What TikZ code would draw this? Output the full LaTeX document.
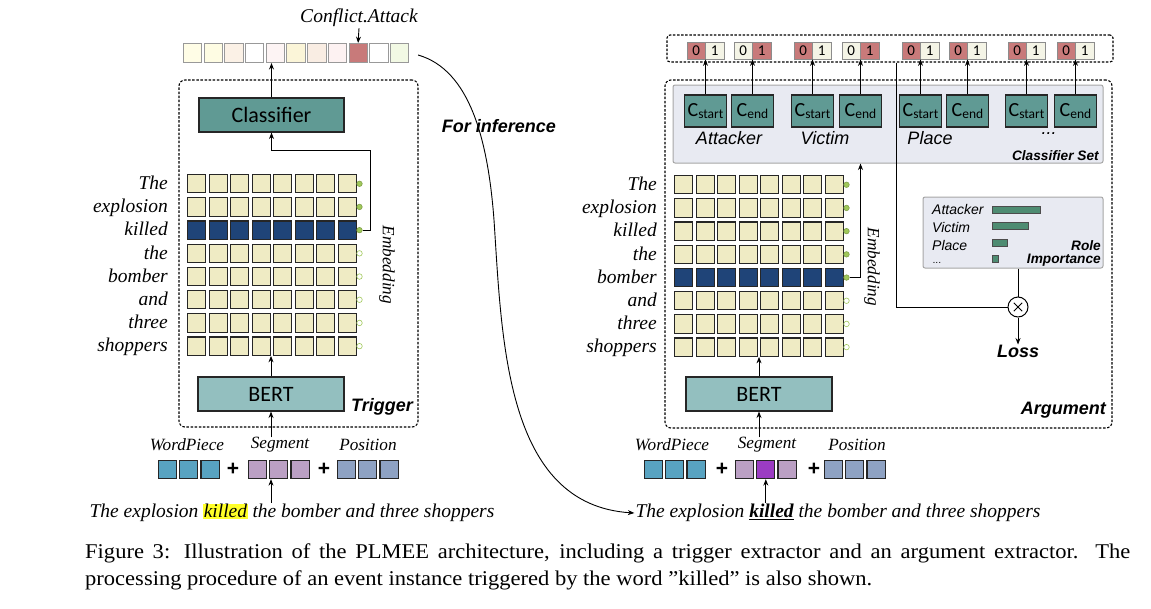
\documentclass[tikz,border=0pt]{standalone}
\usepackage{fontspec}
\usepackage{graphicx}
\setmainfont{Liberation Serif}
\newfontfamily\arialfont{Liberation Sans}
\newfontfamily\calfont{Carlito}
\usetikzlibrary{arrows.meta,calc}
\definecolor{gridc}{RGB}{239,235,196}
\definecolor{navyc}{RGB}{31,68,120}
\definecolor{clsc}{RGB}{96,154,148}
\definecolor{bertc}{RGB}{147,191,191}
\definecolor{dotg}{RGB}{160,200,90}
\definecolor{credc}{RGB}{200,122,122}
\definecolor{clightc}{RGB}{244,244,230}
\definecolor{wpc}{RGB}{88,163,193}
\definecolor{segc}{RGB}{187,160,196}
\definecolor{seghc}{RGB}{155,60,195}
\definecolor{posc}{RGB}{142,162,195}
\definecolor{panelc}{RGB}{232,234,242}
\definecolor{barc}{RGB}{78,140,114}
\definecolor{hlc}{RGB}{255,255,40}
\definecolor{tA}{RGB}{255,253,230}
\definecolor{tB}{RGB}{254,252,227}
\definecolor{tC}{RGB}{251,241,230}
\definecolor{tD}{RGB}{255,255,255}
\definecolor{tE}{RGB}{253,244,244}
\definecolor{tF}{RGB}{251,245,216}
\definecolor{tG}{RGB}{249,237,227}
\definecolor{tH}{RGB}{253,242,242}
\definecolor{tI}{RGB}{200,122,122}
\definecolor{tJ}{RGB}{255,255,255}
\definecolor{tK}{RGB}{242,249,228}
\newsavebox\capB
\begin{document}
\sbox\capB{\fontsize{21}{21}\selectfont processing procedure of an event instance triggered by the word ”killed” is also shown.}%
\pgfmathsetmacro\capsc{787/\the\wd\capB}%
\pgfmathsetmacro\capw{1045/\capsc}%
\begin{tikzpicture}[x=1pt,y=-1pt,
  >={Stealth[length=6.5pt,width=5pt]},
  arr/.style={->,line width=0.9pt},
  ln/.style={line width=0.9pt},
  cellg/.style={draw=black!85,line width=1.1pt,minimum width=18.3pt,minimum height=18.3pt,inner sep=0pt},
  vcell/.style={draw=black!40,line width=0.8pt,minimum width=18.4pt,minimum height=19.2pt,inner sep=0pt},
  pcell/.style={draw=black!45,line width=0.8pt,minimum width=18.5pt,minimum height=17pt,inner sep=0pt,font={\calfont\fontsize{15}{15}\selectfont}},
  embc/.style={draw=black!85,line width=1.1pt,minimum width=18.2pt,minimum height=18.2pt,inner sep=0pt},
  clsbox/.style={draw=black!85,line width=1.1pt,fill=clsc,inner sep=0pt,font={\calfont\fontsize{22}{22}\selectfont}},
  bertbox/.style={draw=black!85,line width=1.1pt,fill=bertc,inner sep=0pt,font={\calfont\fontsize{22}{22}\selectfont}},
  cbox/.style={draw=black!85,line width=1.1pt,fill=clsc,minimum width=42pt,minimum height=32pt,inner sep=0pt,font={\calfont}},
  dashbox/.style={draw=black,line width=1.1pt,dash pattern=on 2.5pt off 1.6pt,rounded corners=6pt,inner sep=0pt},
  panel/.style={draw=black!35,line width=1pt,fill=panelc,rounded corners=2pt,inner sep=0pt},
  wordlab/.style={anchor=mid east,inner sep=0pt,font={\itshape\fontsize{19.5}{20}\selectfont}},
  serlab/.style={inner sep=0pt,font={\itshape\fontsize{17.2}{18}\selectfont}},
  sentlab/.style={inner sep=1pt,font={\itshape\fontsize{19.5}{20}\selectfont}},
  arlab/.style={inner sep=0pt,font={\arialfont\itshape\fontsize{18}{18}\selectfont}},
  arbold/.style={inner sep=0pt,font={\arialfont\bfseries\itshape\fontsize{18}{18}\selectfont}},
  smbold/.style={inner sep=0pt,font={\arialfont\bfseries\itshape\fontsize{13.7}{14}\selectfont}},
  smlab/.style={inner sep=0pt,anchor=base west,text depth=0pt,font={\arialfont\itshape\fontsize{14}{14}\selectfont}},
  plus/.style={inner sep=0pt,font={\arialfont\bfseries\fontsize{21}{21}\selectfont}},
  barst/.style={draw=black!70,line width=0.7pt,fill=barc}]
\useasboundingbox (0,0) rectangle (1151,608);

% ================= LEFT: Trigger =================
\node[dashbox,minimum width=239pt,minimum height=347pt] (trig) at (298.5,253.5) {};
\foreach \c [count=\i from 0] in {tA,tB,tC,tD,tE,tF,tG,tH,tI,tJ,tK}
  \node[vcell,fill=\c] (v\i) at ({192.5+20.7*\i},53) {};
\node[inner sep=1pt,font={\itshape\fontsize{19.5}{20}\selectfont}] (conf) at (359,18) {Conflict.Attack};
\draw[arr] (conf.south) -- (v8.north);
\node[clsbox,minimum width=145pt,minimum height=34pt] (clsL) at (271.5,115) {Classifier};
\draw[arr] (clsL.north) -- (clsL.north |- v4.south);

\foreach \r/\fc in {1/gridc,2/gridc,3/navyc,4/gridc,5/gridc,6/gridc,7/gridc,8/gridc}
  \foreach \c in {1,...,8}
    \node[cellg,fill=\fc] (gL-\r-\c) at ({196.75+21.5*(\c-1)},{183.75+23.2*(\r-1)}) {};
\foreach \r/\fc/\dc in {1/dotg/dotg!80!black,2/dotg/dotg!80!black,3/dotg/dotg!80!black,4/white/dotg,5/white/dotg,6/white/dotg,7/white/dotg,8/white/dotg}
  \node[circle,fill=\fc,draw=\dc,line width=0.6pt,minimum size=5.5pt,inner sep=0pt] (dL\r) at (359.5,{183.75+23.2*(\r-1)}) {};
\foreach \w [count=\r] in {The,explosion,killed,the,bomber,and,three,shoppers}
  \node[wordlab] (wL\r) at (168,{187.25+23.2*(\r-1)}) {\w};
\node[serlab,rotate=-90] (embL) at (387,265) {Embedding};
\coordinate (tL) at (370,150);
\draw[arr] (dL3.east) -| (tL) -- (tL -| clsL.south) -- (clsL.south);

\node[bertbox,minimum width=146pt,minimum height=34pt] (bertL) at (271,394) {BERT};
\draw[arr] (bertL.north) -- (bertL.north |- gL-8-4.south);
\node[arbold,anchor=east] (trigl) at (413,407) {Trigger};

% inputs left
\node[serlab] (wpL) at (187,445) {WordPiece};
\node[serlab] (sgL) at (280,445) {Segment};
\node[serlab] (psL) at (368,445) {Position};
\draw[arr] (bertL.south |- sgL.north) -- (bertL.south);
\foreach \i in {0,1,2} {
  \node[embc,fill=wpc] (wL-\i) at ({167.5+21.3*\i},469.5) {};
  \node[embc,fill=segc] (sL-\i) at ({257.5+21.3*\i},469.5) {};
  \node[embc,fill=posc] (pL-\i) at ({346.5+21.3*\i},469.5) {};
}
\node[plus] (plL1) at (233,469) {+};
\node[plus] (plL2) at (324,469) {+};
\setlength\fboxsep{0.5pt}
\node[sentlab] (sentL) at (292,513) {The explosion \colorbox{hlc}{killed} the bomber and three shoppers};
\draw[arr] (bertL.south |- sentL.north) -- (bertL.south |- sL-1.south);

% ================= RIGHT: Argument =================
\node[dashbox,rounded corners=3pt,minimum width=446pt,minimum height=27pt] (obox) at (890,48.5) {};
\node[dashbox,minimum width=447pt,minimum height=348pt] (argb) at (888.5,254) {};
\node[panel,minimum width=430pt,minimum height=78pt] (csp) at (888,124) {};

\foreach \x/\s/\a/\b [count=\k] in {705.5/start/credc/clightc,752.5/end/clightc/credc,812.5/start/credc/clightc,860.5/end/clightc/credc,920.5/start/credc/clightc,967.5/end/credc/clightc,1026.5/start/credc/clightc,1075.5/end/credc/clightc} {
  \node[cbox] (C\k) at (\x,111) {\fontsize{20}{20}\selectfont C\raisebox{-2.5pt}{\fontsize{13.5}{14}\selectfont \s}};
  \node[pcell,fill=\a] (o\k-a) at ({\x-9.25},50.5) {0};
  \node[pcell,fill=\b] (o\k-b) at ({\x+9.25},50.5) {1};
  \draw[arr] (C\k.north) -- (C\k.north |- o\k-a.south);
}
\node[arlab] (rAtt) at (729,138) {Attacker};
\node[arlab] (rVic) at (825,138) {Victim};
\node[arlab] (rPla) at (930,138) {Place};
\node[arlab] (rDot) at (1049,134) {...};
\node[smbold,anchor=east] (cslab) at (1099,156) {Classifier Set};

\foreach \r/\fc in {1/gridc,2/gridc,3/gridc,4/gridc,5/navyc,6/gridc,7/gridc,8/gridc}
  \foreach \c in {1,...,8}
    \node[cellg,fill=\fc] (gR-\r-\c) at ({683.75+21.5*(\c-1)},{184.75+23.2*(\r-1)}) {};
\foreach \r/\fc/\dc in {1/dotg/dotg!80!black,2/dotg/dotg!80!black,3/dotg/dotg!80!black,4/dotg/dotg!80!black,5/dotg/dotg!80!black,6/white/dotg,7/white/dotg,8/white/dotg}
  \node[circle,fill=\fc,draw=\dc,line width=0.6pt,minimum size=5.5pt,inner sep=0pt] (dR\r) at (846.5,{184.75+23.2*(\r-1)}) {};
\foreach \w [count=\r] in {The,explosion,killed,the,bomber,and,three,shoppers}
  \node[wordlab] (wR\r) at (657,{188.25+23.2*(\r-1)}) {\w};
\node[serlab,rotate=-90] (embR) at (872,267) {Embedding};
\draw[arr] (dR5.east) -| (csp.south -| C4);

\node[bertbox,minimum width=146pt,minimum height=34pt] (bertR) at (759,394) {BERT};
\draw[arr] (bertR.north) -- (bertR.north |- gR-8-4.south);
\node[arbold,anchor=east] (argl) at (1106,410) {Argument};

% role importance
\node[panel,minimum width=180pt,minimum height=71pt] (rip) at (1013,232.5) {};
\node[smlab] (iAtt) at (932,214) {Attacker};
\node[smlab] (iVic) at (932,232) {Victim};
\node[smlab] (iPla) at (932,250) {Place};
\node[smlab,text height=2pt,font={\arialfont\itshape\fontsize{10}{10}\selectfont}] (iDot) at (933,263) {...};
\draw[barst] (992,206) rectangle (1040,213);
\draw[barst] (992,222) rectangle (1028,229);
\draw[barst] (992,239) rectangle (1007,246);
\draw[barst] (992,255) rectangle (998,262);
\node[smbold,anchor=east] (riR) at (1101,246) {Role};
\node[smbold,anchor=east] (riI) at (1101,260) {Importance};

\node[circle,draw,line width=1pt,fill=white,minimum size=20pt,inner sep=0pt] (ot) at (1018,307) {};
\draw[line width=0.9pt] ($(ot)+(-4.2,-4.2)$) -- ($(ot)+(4.2,4.2)$);
\draw[line width=0.9pt] ($(ot)+(-4.2,4.2)$) -- ($(ot)+(4.2,-4.2)$);
\draw[ln] (rip.south -| ot) -- (ot.north);
\coordinate (lossc) at (896,307);
\draw[ln] (obox.south -| lossc) -- (lossc) -- (ot.west);
\node[arbold] (loss) at (1018,351) {Loss};
\draw[arr] (ot.south) -- (loss.north);

% inputs right
\node[serlab] (wpR) at (672,445) {WordPiece};
\node[serlab] (sgR) at (767,445) {Segment};
\node[serlab] (psR) at (857,445) {Position};
\draw[arr] (bertR.south |- sgR.north) -- (bertR.south);
\foreach \i/\sc in {0/segc,1/seghc,2/segc} {
  \node[embc,fill=wpc] (wR-\i) at ({653.5+21.3*\i},469.5) {};
  \node[embc,fill=\sc] (sR-\i) at ({744.5+21.3*\i},469.5) {};
  \node[embc,fill=posc] (pR-\i) at ({833.5+21.3*\i},469.5) {};
}
\node[plus] (plR1) at (722,469) {+};
\node[plus] (plR2) at (814,469) {+};
\node[sentlab] (sentR) at (838,513) {The explosion \underline{\textbf{killed}} the bomber and three shoppers};
\draw[arr] (sR-1.south |- sentR.north) -- (sR-1.south);

% ================= For inference =================
\node[arbold] (finf) at (499,126) {For inference};
\draw[arr] ([xshift=9pt,yshift=-2pt]v10.east) .. controls (470,70) and (488,140) .. (494,220)
  .. controls (502,340) and (505,505) .. (sentR.west);

% ================= caption =================
\node[anchor=base west,inner sep=0pt] (cap1) at (85,558) {\scalebox{\capsc}[1]{\makebox[\capw pt][s]{\fontsize{21}{21}\selectfont Figure 3: Illustration of the PLMEE architecture, including a trigger extractor and an argument extractor. The}}};
\node[anchor=base west,inner sep=0pt] (cap2) at (85,585) {\scalebox{\capsc}[1]{\usebox\capB}};
\end{tikzpicture}
\end{document}
